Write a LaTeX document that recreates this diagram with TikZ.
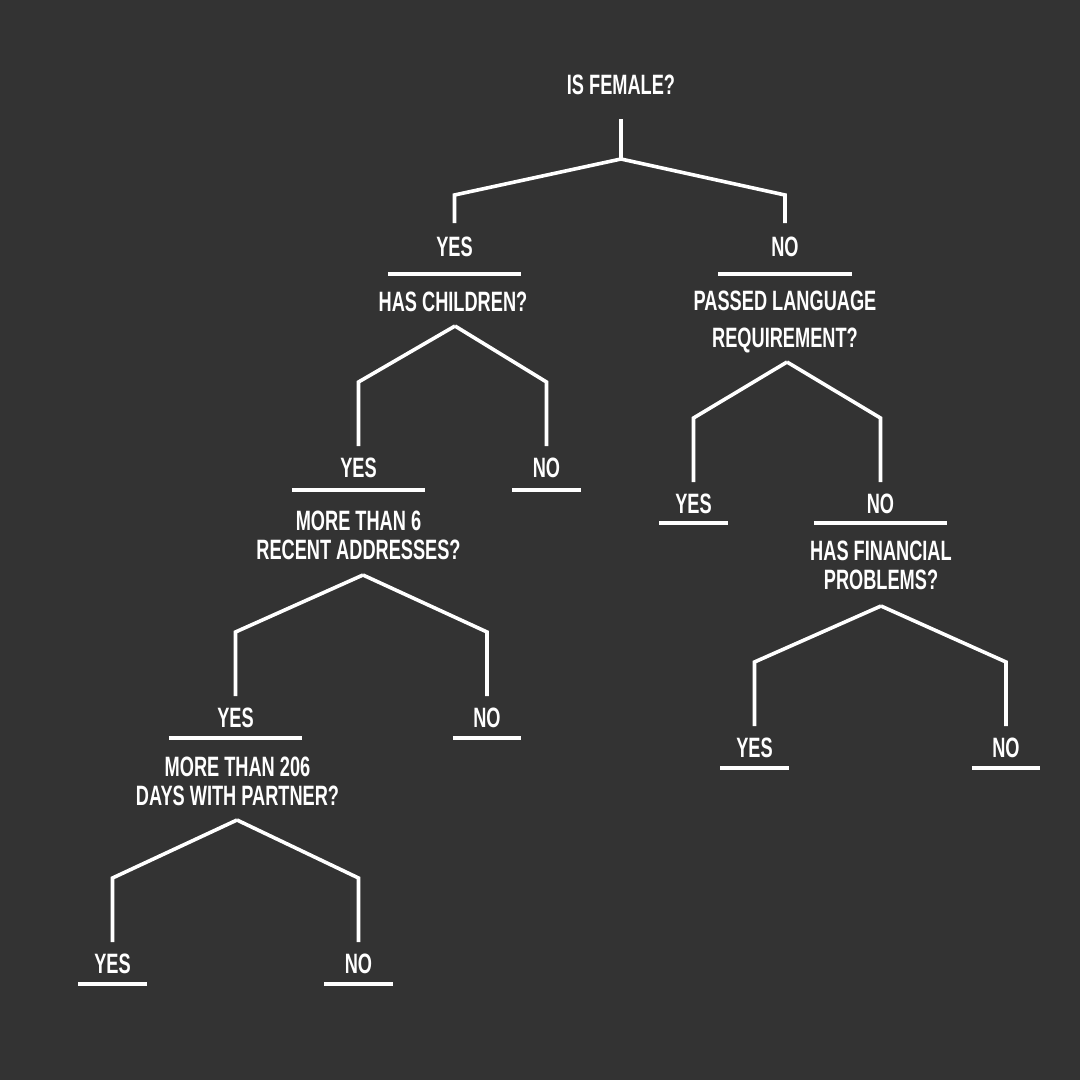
\documentclass[tikz,border=0pt]{standalone}
\usepackage{fontspec}
\setmainfont{Liberation Sans}[FakeStretch=0.65]
\definecolor{slate}{HTML}{333333}

% apex -> corner above the answer -> down to the answer
\newcommand{\branch}[4]{\draw (#1) -- ([yshift=#3]#2.north) -- ([yshift=#4]#2.north);}

\begin{document}
\begin{tikzpicture}[x=1pt,y=-1pt]
  \fill[slate] (0,0) rectangle (1080,1080);
  \begin{scope}[
    every node/.style={text=white,inner sep=0pt,anchor=north,align=center,
      font=\fontsize{28}{29}\selectfont\bfseries},
    wide/.style={minimum width=133pt},
    narrow/.style={minimum width=68pt},
    ]
    \node (fem) at (621,75) {IS FEMALE?};
    \node[wide] (fy) at (454.5,237) {YES};
    \node[wide] (fn) at (785,237) {NO};
    \node (kids) at (453,292) {HAS CHILDREN?};
    \node (lang) at (785,291) {PASSED LANGUAGE\\[8pt]REQUIREMENT?};
    \node[wide] (ky) at (358.5,458) {YES};
    \node[narrow] (kn) at (546.5,458) {NO};
    \node (addr) at (358.5,511) {MORE THAN 6\\RECENT ADDRESSES?};
    \node[narrow] (ly) at (693.5,494) {YES};
    \node[wide] (ln) at (880.5,494) {NO};
    \node (money) at (881,541) {HAS FINANCIAL\\PROBLEMS?};
    \node[wide] (ay) at (235.5,708) {YES};
    \node[narrow] (an) at (487,708) {NO};
    \node (days) at (237.5,757) {MORE THAN 206\\DAYS WITH PARTNER?};
    \node[narrow] (my) at (754.5,738) {YES};
    \node[narrow] (mn) at (1006,738) {NO};
    \node[narrow] (dy) at (112.5,954) {YES};
    \node[narrow] (dn) at (358.5,954) {NO};
  \end{scope}
  \coordinate (femApex) at (621,159);
  \coordinate (kidsApex) at (455,326);
  \coordinate (langApex) at (787,362);
  \coordinate (addrApex) at (363,575);
  \coordinate (moneyApex) at (881,606);
  \coordinate (daysApex) at (237,820);
  \begin{scope}[every path/.style={draw,white,line width=3.6pt}]
    \draw ([yshift=-24pt]fem.south) -- (femApex);
    \branch{femApex}{fy}{42pt}{14pt}
    \branch{femApex}{fn}{42pt}{14pt}
    \branch{kidsApex}{ky}{76pt}{12pt}
    \branch{kidsApex}{kn}{76pt}{12pt}
    \branch{langApex}{ly}{76pt}{12pt}
    \branch{langApex}{ln}{76pt}{12pt}
    \branch{addrApex}{ay}{76pt}{12pt}
    \branch{addrApex}{an}{76pt}{12pt}
    \branch{moneyApex}{my}{76pt}{12pt}
    \branch{moneyApex}{mn}{76pt}{12pt}
    \branch{daysApex}{dy}{76pt}{12pt}
    \branch{daysApex}{dn}{76pt}{12pt}
    \foreach \n/\y in {fy/274,fn/274,ky/490,kn/490,ly/523,ln/523,
        ay/738,an/738,my/768,mn/768,dy/984,dn/984}
      \draw (\n.west |- 0,\y) -- (\n.east |- 0,\y);
  \end{scope}
\end{tikzpicture}
\end{document}
